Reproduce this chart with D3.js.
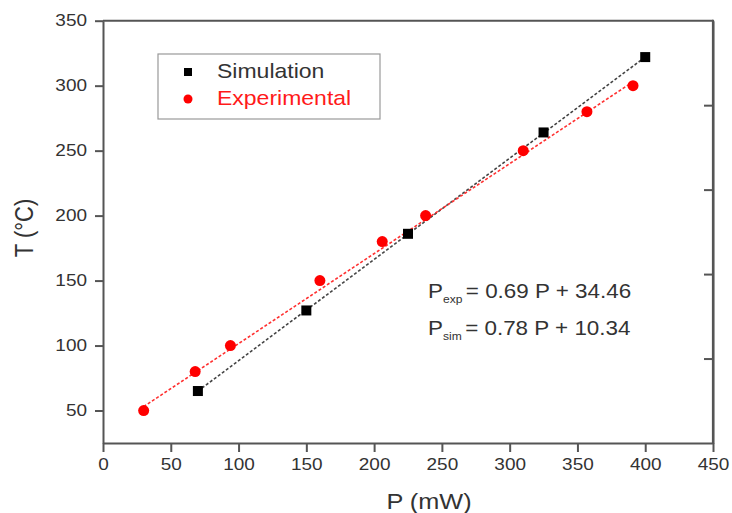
<!DOCTYPE html>
<html lang="en">
<head>
    <meta charset="UTF-8">
    <title>T vs P</title>
    <script src="https://d3js.org/d3.v7.min.js"></script>
    <style>
        html, body { margin: 0; background: #fff; overflow: hidden; }
        svg { display: block; }
        text { font-family: "Liberation Sans", Arial, sans-serif; fill: #333; }
    </style>
</head>
<body>
    <script>
        // values
        const simP = [70, 150, 225, 325, 400];
        const simT = [65, 127, 186, 264, 322];
        const expP = [30, 68, 94, 160, 206, 238, 310, 357, 391];
        const expT = [50, 80, 100, 150, 180, 200, 250, 280, 300];
        // fit line end points
        const simFitP = [70, 400];
        const simFitT = [65, 322];
        const expFitP = [30, 391];
        const expFitT = [53, 303];
        const xTicks = [0, 50, 100, 150, 200, 250, 300, 350, 400, 450];
        const yTicks = [50, 100, 150, 200, 250, 300, 350];

        const w = 732, h = 513;
        const plotL = 103, plotR = 713, plotT = 20.7, plotB = 443;
        const sx = 1.15; // text in the source looks stretched sideways

        const svg = d3.select("body").append("svg")
            .attr("width", w).attr("height", h);

        const x = d3.scaleLinear().domain([0, 450]).range([plotL, plotR]);
        const y = d3.scaleLinear().domain([25, 350]).range([plotB, plotT]);

        // frame: top and right lines, right has inner ticks
        svg.append("line").attr("x1", plotL).attr("x2", plotR).attr("y1", plotT).attr("y2", plotT)
            .attr("stroke", "#555").attr("stroke-width", 2);
        svg.append("line").attr("x1", plotR).attr("x2", plotR).attr("y1", plotT - 1).attr("y2", plotB + 1)
            .attr("stroke", "#555").attr("stroke-width", 2.2);
        const yr = d3.scaleLinear().domain([0, 1]).range([plotB, plotT]);
        svg.append("g")
            .attr("transform", "translate(" + plotR + ",0)")
            .call(d3.axisRight(yr).tickValues([0.2, 0.4, 0.6, 0.8]).tickSize(-9).tickSizeOuter(0).tickFormat(""));

        const xAxis = svg.append("g")
            .attr("transform", "translate(0," + plotB + ")")
            .call(d3.axisBottom(x).tickValues(xTicks).tickSize(9).tickSizeOuter(0));
        xAxis.selectAll(".tick text")
            .attr("y", 0).attr("dy", "0.71em")
            .attr("transform", "translate(0,15) scale(" + sx + ",1)");

        const yAxis = svg.append("g")
            .attr("transform", "translate(" + plotL + ",0)")
            .call(d3.axisLeft(y).tickValues(yTicks).tickSize(8).tickSizeOuter(0));
        yAxis.selectAll(".tick text")
            .attr("x", 0)
            .attr("transform", "translate(-16,0) scale(" + sx + ",1)");

        svg.selectAll(".domain").attr("stroke", "#555").attr("stroke-width", 2);
        svg.selectAll(".tick line").attr("stroke", "#555").attr("stroke-width", 2);
        svg.selectAll(".tick text").attr("font-size", 16.5).attr("fill", "#333")
            .attr("font-family", "Liberation Sans, Arial, sans-serif");

        // axis titles
        svg.append("text")
            .attr("transform", "translate(429,509) scale(" + sx + ",1)")
            .attr("text-anchor", "middle").attr("font-size", 22).text("P (mW)");
        svg.append("text")
            .attr("transform", "translate(33,228) scale(" + sx + ",1) rotate(-90)")
            .attr("text-anchor", "middle").attr("font-size", 22).text("T (°C)");

        // fit lines
        const line = d3.line().x(d => x(d[0])).y(d => y(d[1]));
        svg.append("path")
            .attr("d", line(d3.zip(simFitP, simFitT)))
            .attr("fill", "none").attr("stroke", "#444").attr("stroke-width", 1.6)
            .attr("stroke-dasharray", "3,2");
        svg.append("path")
            .attr("d", line(d3.zip(expFitP, expFitT)))
            .attr("fill", "none").attr("stroke", "#ff3030").attr("stroke-width", 1.6)
            .attr("stroke-dasharray", "3,2");

        // points
        const sq = 10;
        svg.selectAll("rect.sim")
            .data(d3.zip(simP, simT))
            .enter().append("rect")
            .attr("class", "sim")
            .attr("x", d => x(d[0]) - sq / 2)
            .attr("y", d => y(d[1]) - sq / 2)
            .attr("width", sq).attr("height", sq)
            .attr("fill", "#000");
        svg.selectAll("circle.exp")
            .data(d3.zip(expP, expT))
            .enter().append("circle")
            .attr("class", "exp")
            .attr("cx", d => x(d[0]))
            .attr("cy", d => y(d[1]))
            .attr("r", 5.5)
            .attr("fill", "#ff0000");

        // legend
        const lg = svg.append("g");
        lg.append("rect")
            .attr("x", 158).attr("y", 54).attr("width", 222).attr("height", 65)
            .attr("fill", "none").attr("stroke", "#999").attr("stroke-width", 1.2);
        lg.append("rect").attr("x", 184).attr("y", 68).attr("width", 8).attr("height", 8).attr("fill", "#000");
        lg.append("circle").attr("cx", 188).attr("cy", 99).attr("r", 4.5).attr("fill", "#ff0000");
        lg.append("text")
            .attr("transform", "translate(217,78) scale(" + sx + ",1)")
            .attr("font-size", 20).attr("fill", "#333").text("Simulation");
        lg.append("text")
            .attr("transform", "translate(217,105) scale(" + sx + ",1)")
            .attr("font-size", 20).style("fill", "#ff1a1a").text("Experimental");

        // equations
        const eqs = [
            { sub: "exp", rest: "= 0.69 P + 34.46", base: 298 },
            { sub: "sim", rest: "= 0.78 P + 10.34", base: 335 }
        ];
        eqs.forEach(e => {
            const t = svg.append("text")
                .attr("transform", "translate(428," + e.base + ") scale(" + sx + ",1)")
                .attr("font-size", 19.5).attr("fill", "#222");
            t.append("tspan").text("P");
            t.append("tspan").attr("font-size", 10.5).attr("dy", 5).text(e.sub);
            t.append("tspan").attr("dy", -5).attr("dx", 3).text(e.rest);
        });
    </script>
</body>
</html>
